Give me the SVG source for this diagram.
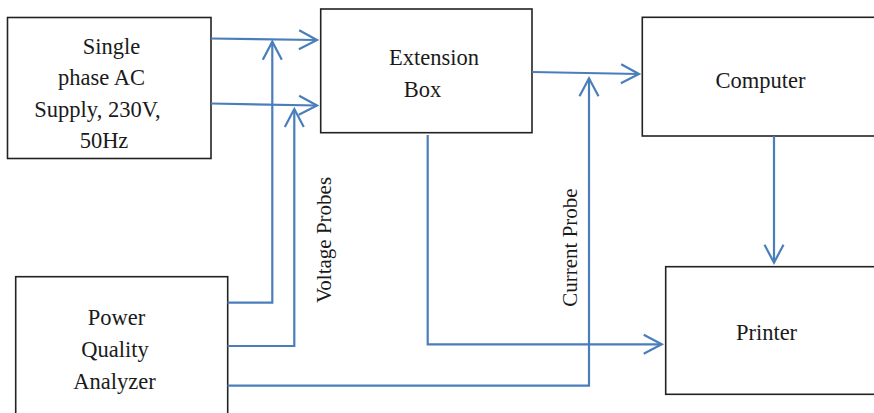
<svg xmlns="http://www.w3.org/2000/svg" width="874" height="413" viewBox="0 0 874 413">
<style>
.box{fill:#fff;stroke:#222;stroke-width:1.6}
.lbl{font-family:'Liberation Serif','Times New Roman',Times,serif;font-size:22.5px;fill:#1a1a1a;text-anchor:middle}
.rot{font-size:21px}
.con{fill:none;stroke:#4a7ebb;stroke-width:2.2}
</style>
<defs>
<marker id="ah" markerUnits="userSpaceOnUse" markerWidth="24" markerHeight="24" refX="0" refY="0" orient="auto" overflow="visible">
<path d="M-18,-9.5 L0,0 L-18,9.5" fill="none" stroke="#4a7ebb" stroke-width="2.2"/>
</marker>
</defs>
<rect width="874" height="413" fill="#fff"/>
<g id="supply">
<rect class="box" x="7.5" y="17.5" width="203.5" height="141"/>
<text class="lbl" x="111.5" y="54">Single</text>
<text class="lbl" x="101.5" y="85">phase AC</text>
<text class="lbl" x="97.5" y="117">Supply, 230V,</text>
<text class="lbl" x="104" y="148">50Hz</text>
</g>
<g id="extension">
<rect class="box" x="320.7" y="9" width="211.3" height="123.7"/>
<text class="lbl" x="434" y="65">Extension</text>
<text class="lbl" x="422.5" y="96.5">Box</text>
</g>
<g id="computer">
<rect class="box" x="642.3" y="17.3" width="260" height="118.7"/>
<text class="lbl" x="760.5" y="87.5">Computer</text>
</g>
<g id="printer">
<rect class="box" x="665.7" y="266.7" width="240" height="127.6"/>
<text class="lbl" x="766.5" y="340">Printer</text>
</g>
<g id="analyzer">
<rect class="box" x="15.7" y="276.7" width="212" height="160"/>
<text class="lbl" x="116.5" y="325">Power</text>
<text class="lbl" x="115" y="357">Quality</text>
<text class="lbl" x="114.5" y="388.5">Analyzer</text>
</g>
<g id="connectors">
<path class="con" d="M211,38.5 L317,40" marker-end="url(#ah)"/>
<path class="con" d="M211,103.5 L317,105.5" marker-end="url(#ah)"/>
<path class="con" d="M227.5,302.7 H272.3 V41.7" marker-end="url(#ah)"/>
<path class="con" d="M227.5,346 H294.3 V109" marker-end="url(#ah)"/>
<path class="con" d="M227.5,385.7 H589 V78.3" marker-end="url(#ah)"/>
<path class="con" d="M427.7,135 V344.3 H661.7" marker-end="url(#ah)"/>
<path class="con" d="M532,72 L639,74" marker-end="url(#ah)"/>
<path class="con" d="M774,136 V262.7" marker-end="url(#ah)"/>
<text class="lbl rot" transform="translate(330.5,240) rotate(-90)">Voltage Probes</text>
<text class="lbl rot" transform="translate(576.5,247.5) rotate(-90)">Current Probe</text>
</g>
</svg>
